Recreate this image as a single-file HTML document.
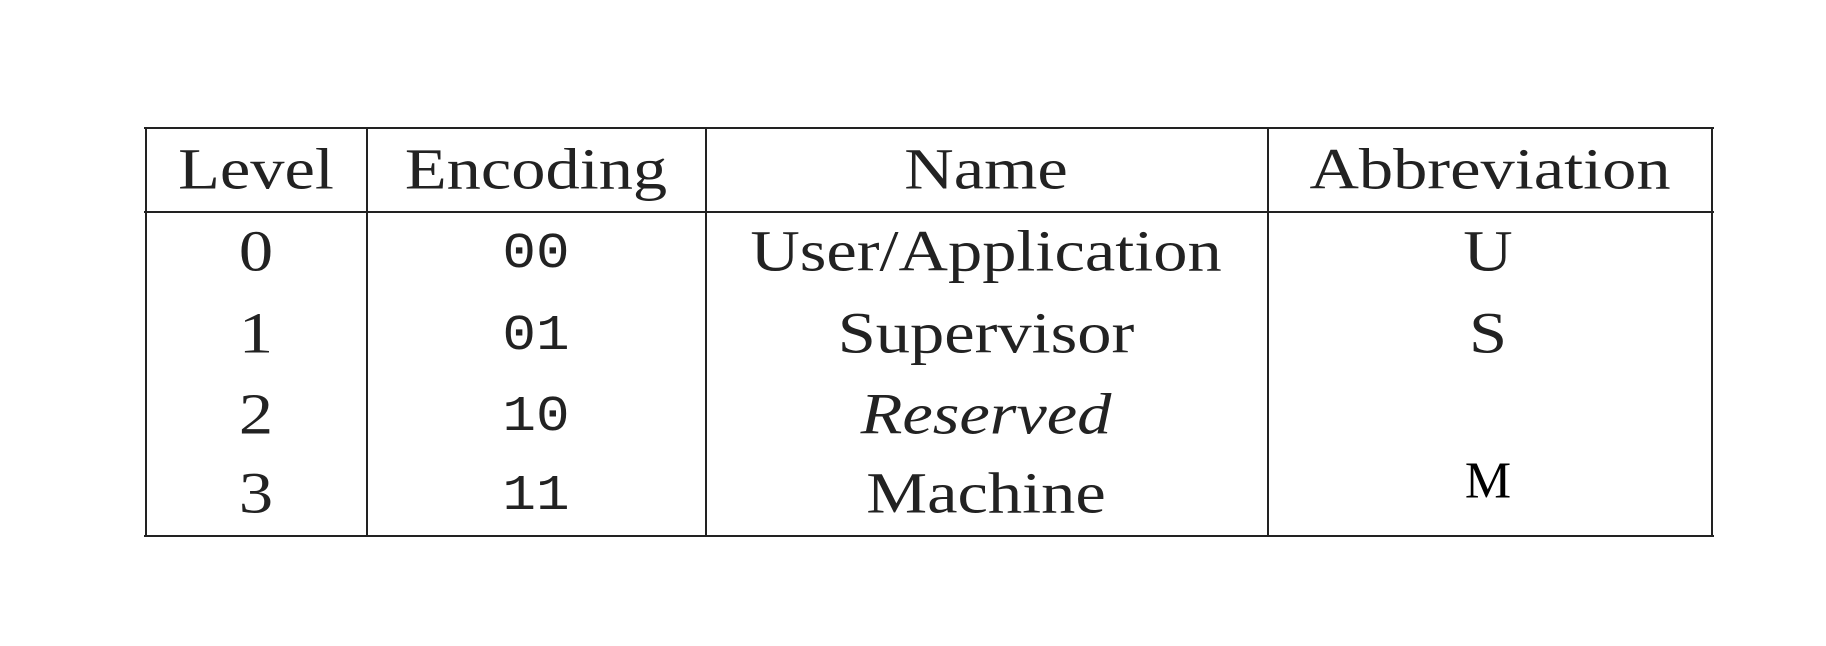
<!DOCTYPE html>
<html><head><style>
body{margin:0;width:1826px;height:646px;background:#fff;position:relative;overflow:hidden;font-family:"Liberation Serif",serif;color:#222}
.l{position:absolute;background:#222}
.t{position:absolute;font-size:58px;line-height:1;transform:translate(-50%,-80%) scaleX(1.18);white-space:nowrap}
.m{font-family:"Liberation Mono",monospace;font-size:50px;transform:translate(-50%,-80%) scaleX(1.12)}
</style></head><body>
<div class="l" style="left:144px;top:127px;width:1570px;height:2px"></div>
<div class="l" style="left:144px;top:211px;width:1570px;height:2px"></div>
<div class="l" style="left:144px;top:535px;width:1570px;height:2px"></div>
<div class="l" style="left:145px;top:127px;width:2px;height:410px"></div>
<div class="l" style="left:366px;top:127px;width:2px;height:410px"></div>
<div class="l" style="left:705px;top:127px;width:2px;height:410px"></div>
<div class="l" style="left:1267px;top:127px;width:2px;height:410px"></div>
<div class="l" style="left:1711px;top:127px;width:2px;height:410px"></div>

<div class="t" style="left:256px;top:187px">Level</div>
<div class="t" style="left:536px;top:187px">Encoding</div>
<div class="t" style="left:986px;top:187px">Name</div>
<div class="t" style="left:1490px;top:187px">Abbreviation</div>

<div class="t" style="left:256px;top:269px">0</div>
<div class="t" style="left:256px;top:351px">1</div>
<div class="t" style="left:256px;top:432px">2</div>
<div class="t" style="left:256px;top:511px">3</div>

<div class="t m" style="left:536px;top:270px">00</div>
<div class="t m" style="left:536px;top:352px">01</div>
<div class="t m" style="left:536px;top:433px">10</div>
<div class="t m" style="left:536px;top:512px">11</div>

<div class="t" style="left:986px;top:269px">User/Application</div>
<div class="t" style="left:986px;top:351px">Supervisor</div>
<div class="t" style="left:986px;top:432px;font-style:italic">Reserved</div>
<div class="t" style="left:986px;top:511px">Machine</div>

<div class="t" style="left:1488px;top:269px">U</div>
<div class="t" style="left:1488px;top:351px">S</div>
<div class="t" style="left:1488px;top:497px;font-size:52px;color:#000;transform:translate(-50%,-80%)">M</div>
</body></html>
